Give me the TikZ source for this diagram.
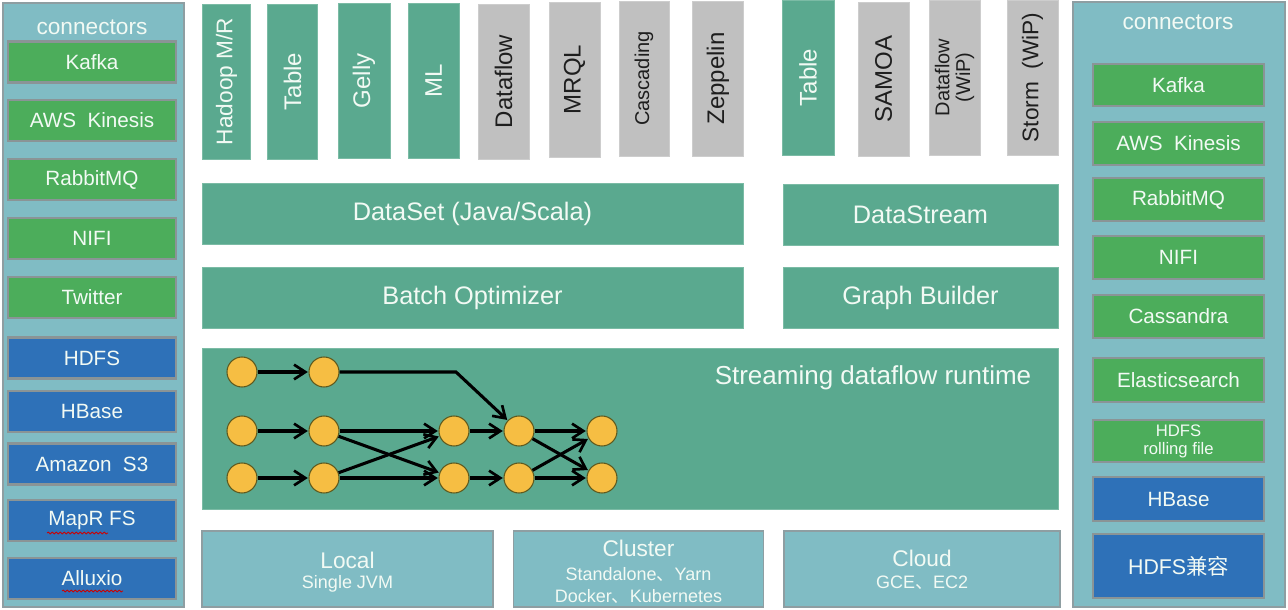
\documentclass[tikz,border=0pt]{standalone}
\usepackage{fontspec}
\setmainfont{Liberation Sans}
\newfontfamily\cjk{Noto Sans CJK SC}
\usetikzlibrary{arrows.meta,decorations.pathmorphing}
\definecolor{panelc}{HTML}{80BCC4}
\definecolor{panelbord}{HTML}{8E9EA2}
\definecolor{greenc}{HTML}{4CAD5B}
\definecolor{bluec}{HTML}{2E71B8}
\definecolor{itembord}{HTML}{8A9496}
\definecolor{tealc}{HTML}{5AA98F}
\definecolor{tealbd}{HTML}{7BBBA5}
\definecolor{grayc}{HTML}{C0C0C0}
\definecolor{graybd}{HTML}{CDCDCD}
\definecolor{nodec}{HTML}{F6BE43}
\definecolor{nodebord}{HTML}{5F5A1E}
\definecolor{txtw}{HTML}{F2FAF4}
\definecolor{txtd}{HTML}{1E1E1E}
\newcommand\fszA{\fontsize{15.5pt}{17pt}\selectfont}
\newcommand\fszB{\fontsize{19pt}{21pt}\selectfont}
\newcommand\fszC{\fontsize{18pt}{20pt}\selectfont}
\newcommand\fszD{\fontsize{17pt}{19pt}\selectfont}
\newcommand\fszE{\fontsize{13.5pt}{15pt}\selectfont}
\newcommand\fszF{\fontsize{12.5pt}{13.5pt}\selectfont}
\newcommand\fszG{\fontsize{16pt}{18pt}\selectfont}
\newcommand\fszH{\fontsize{15pt}{15.5pt}\selectfont}
\newcommand\fszI{\fontsize{19.5pt}{21pt}\selectfont}
\newcommand\fszJ{\fontsize{17pt}{19pt}\selectfont}
\newcommand\fszK{\fontsize{15pt}{17pt}\selectfont}
\tikzset{
  panel/.style={fill=panelc, draw=panelbord, line width=1.2pt, inner sep=0pt, outer sep=0pt},
  item/.style={draw=itembord, line width=2pt, text=txtw, inner sep=0pt, outer sep=0pt, font=\fszA, align=center},
  gitem/.style={item, fill=greenc, minimum width=126pt, minimum height=30.75pt},
  bitem/.style={item, fill=bluec, minimum width=126pt, minimum height=30.75pt},
  rgitem/.style={item, fill=greenc, minimum width=128.25pt, minimum height=32.25pt},
  rbitem/.style={item, fill=bluec, minimum width=128.25pt, minimum height=33pt},
  tealbox/.style={fill=tealc, draw=tealbd, line width=0.6pt, text=txtw, inner sep=0pt, outer sep=0pt, font=\fszB, align=center},
  graybox/.style={fill=grayc, draw=graybd, line width=0.6pt, text=txtd, inner sep=0pt, outer sep=0pt, font=\fszC, align=center},
  vbox/.style={rotate=90, minimum width=116.25pt, minimum height=38.25pt, font=\fszC},
  deploy/.style={panel, line width=1pt, minimum height=57pt},
  title/.style={text=txtw, font=\fszD, inner sep=0pt},
  bigt/.style={text=txtw, font=\fszD, inner sep=0pt},
  smallt/.style={text=txtw, font=\fszE, inner sep=0pt},
  gnode/.style={circle, fill=nodec, draw=nodebord, line width=0.8pt, minimum size=22.5pt, inner sep=0pt},
  arr/.style={draw=black, line width=2.3pt, -{Straight Barb[length=8.5pt,width=11pt,line width=2pt]}, shorten >=0.5pt},
  squig/.style={draw=red!80!black, line width=0.6pt, decorate, decoration={snake, amplitude=0.7pt, segment length=3pt}}
}
\begin{document}
\begin{tikzpicture}[x=0.75pt,y=-0.75pt]
\useasboundingbox[fill=white] (0,0) rectangle (1288,610);

% ---------- left connectors panel ----------
\node[panel, minimum width=135.75pt, minimum height=453pt] (lpanel) at (93.5,305) {};
\node[title] (ltitle) at (92,27) {connectors};
\node[gitem] (lkafka) at (92,62) {Kafka};
\node[gitem] (lkinesis) at (92,120.5) {AWS\ \ Kinesis};
\node[gitem] (lrabbit) at (92,179.5) {RabbitMQ};
\node[gitem] (lnifi) at (92,238.5) {NIFI};
\node[gitem] (ltwitter) at (92,297.5) {Twitter};
\node[bitem] (lhdfs) at (92,358) {HDFS};
\node[bitem] (lhbase) at (92,411.5) {HBase};
\node[bitem] (ls3) at (92,464) {Amazon\ \ S3};
\node[bitem] (lmapr) at (92,520.5) {MapR FS};
\node[bitem] (lalluxio) at (92,578.5) {Alluxio};
\draw[squig] (47,533) -- (108,533);
\draw[squig] (62,591) -- (123,591);

% ---------- right connectors panel ----------
\node[panel, minimum width=159pt, minimum height=453.75pt] (rpanel) at (1179,304.5) {};
\node[title] (rtitle) at (1178,22) {connectors};
\node[rgitem, minimum height=31.5pt] (rkafka) at (1178.5,85) {Kafka};
\node[rgitem] (rkinesis) at (1178.5,143.5) {AWS\ \ Kinesis};
\node[rgitem] (rrabbit) at (1178.5,199.5) {RabbitMQ};
\node[rgitem] (rnifi) at (1178.5,257.5) {NIFI};
\node[rgitem] (rcass) at (1178.5,316.5) {Cassandra};
\node[rgitem, minimum height=33pt] (relastic) at (1178.5,380) {Elasticsearch};
\node[rgitem, minimum height=31.5pt, font=\fszF] (rrolling) at (1178.5,441) {HDFS\\rolling file};
\node[rbitem] (rhbase) at (1178.5,499) {HBase};
\node[rbitem, minimum height=48pt, font=\fszG] (rcompat) at (1178.5,566) {HDFS{\cjk 兼容}};

% ---------- top library boxes ----------
\node[tealbox, vbox, minimum height=36pt, font=\fszJ] (hadoop) at (226.5,81.5) {Hadoop M/R};
\node[tealbox, vbox, minimum height=37.5pt] (tableb) at (292.5,81.5) {Table};
\node[tealbox, vbox, minimum height=39pt] (gelly) at (364,81) {Gelly};
\node[tealbox, vbox] (ml) at (433.5,81) {ML};
\node[graybox, vbox] (dflow) at (503.5,81.5) {Dataflow};
\node[graybox, vbox] (mrql) at (574.5,79.5) {MRQL};
\node[graybox, vbox, minimum height=37.5pt, font=\fszK] (casc) at (644,78.5) {Cascading};
\node[graybox, vbox] (zepp) at (718,78.5) {Zeppelin};
\node[tealbox, vbox, minimum height=39pt] (tables) at (808,77.5) {Table};
\node[graybox, vbox, minimum width=115.5pt] (samoa) at (883.5,79) {SAMOA};
\node[graybox, vbox, font=\fszH] (dflowwip) at (954.5,77.5) {Dataflow\\(WiP)};
\node[graybox, vbox, font=\fszJ] (storm) at (1032.5,77.5) {Storm\ \ (WiP)};

% ---------- API / optimizer layers ----------
\node[tealbox, minimum width=405.75pt, minimum height=45.75pt] (dataset) at (472.5,213.5) {DataSet (Java/Scala)};
\node[tealbox, minimum width=206.25pt, minimum height=45.75pt] (datastream) at (920.5,214.5) {DataStream};
\node[tealbox, minimum width=405.75pt, minimum height=45.75pt] (batch) at (472.5,297.5) {Batch Optimizer};
\node[tealbox, minimum width=206.25pt, minimum height=45.75pt] (graphb) at (920.5,297.5) {Graph Builder};

% ---------- runtime ----------
\node[tealbox, minimum width=642pt, minimum height=120.75pt] (runtime) at (630.5,429) {};
\node[text=txtw, font=\fszI, inner sep=0pt] (rtlabel) at (873,378) {Streaming dataflow runtime};

\node[gnode] (a1) at (242,372) {};
\node[gnode] (a2) at (324,372) {};
\node[gnode] (b1) at (242,431) {};
\node[gnode] (b2) at (324,431) {};
\node[gnode] (b3) at (454,431) {};
\node[gnode] (b4) at (519,431) {};
\node[gnode] (b5) at (602,431) {};
\node[gnode] (c1) at (242,478) {};
\node[gnode] (c2) at (324,478) {};
\node[gnode] (c3) at (454,478) {};
\node[gnode] (c4) at (519,478) {};
\node[gnode] (c5) at (602,478) {};
\coordinate (bend) at (456,372);

\draw[arr] (a1) -- (a2);
\draw[arr] (a2) -- (bend) -- (b4);
\draw[arr] (b1) -- (b2);
\draw[arr] (c1) -- (c2);
\draw[arr] (b2) -- (b3);
\draw[arr] (b2) -- (c3);
\draw[arr] (c2) -- (b3);
\draw[arr] (c2) -- (c3);
\draw[arr] (b3) -- (b4);
\draw[arr] (c3) -- (c4);
\draw[arr] (b4) -- (b5);
\draw[arr] (b4) -- (c5);
\draw[arr] (c4) -- (b5);
\draw[arr] (c4) -- (c5);

% ---------- deployment ----------
\node[deploy, minimum width=218.25pt] (local) at (347.5,569) {};
\node[bigt] (localt) at (347.5,560) {Local};
\node[smallt] (locals) at (347.5,584) {Single JVM};

\node[deploy, minimum width=187.5pt] (cluster) at (638.5,569) {};
\node[bigt] (clustert) at (638.5,548) {Cluster};
\node[smallt] (clusters1) at (638.5,574) {Standalone{\cjk 、}Yarn};
\node[smallt] (clusters2) at (638.5,596) {Docker{\cjk 、}Kubernetes};

\node[deploy, minimum width=207pt] (cloud) at (922,569) {};
\node[bigt] (cloudt) at (922,558) {Cloud};
\node[smallt] (clouds) at (922,583) {GCE{\cjk 、}EC2};
\end{tikzpicture}
\end{document}
